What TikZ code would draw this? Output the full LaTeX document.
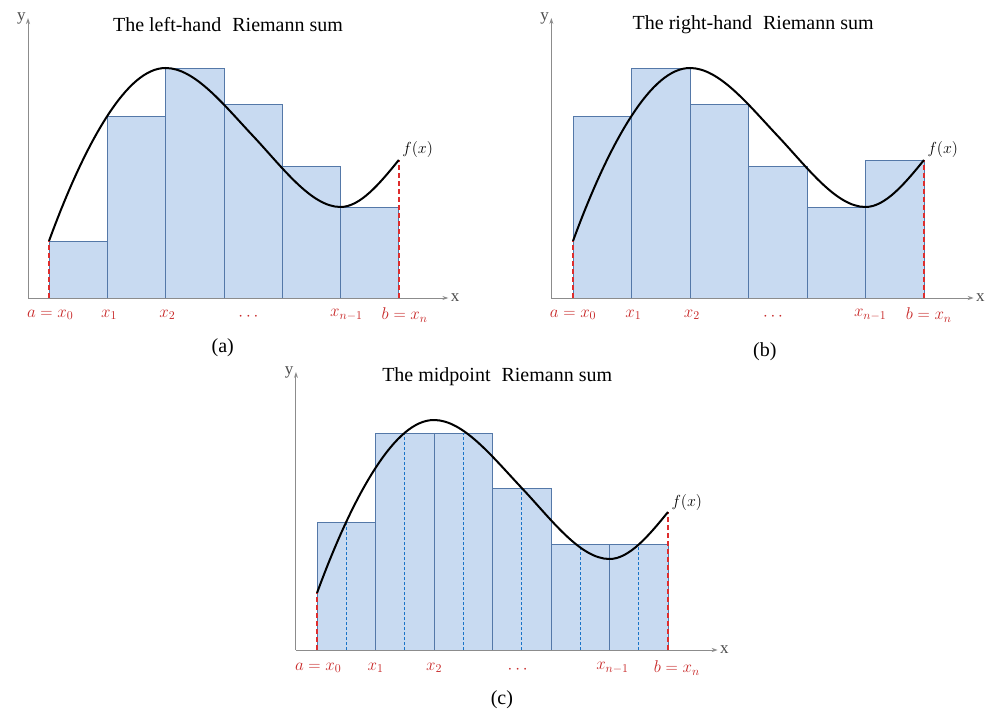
\RequirePackage{fix-cm}
\documentclass[tikz,border=0pt]{standalone}
\usepackage{fontspec}
\setmainfont{Liberation Serif}
\usepackage{tikz}
\usetikzlibrary{arrows.meta}

\definecolor{barfill}{RGB}{200,218,241}
\definecolor{baredge}{RGB}{84,120,168}
\definecolor{axisgray}{RGB}{140,140,140}
\definecolor{edgered}{RGB}{222,45,45}
\definecolor{labelred}{RGB}{200,40,40}
\definecolor{midblue}{RGB}{25,115,200}

\begin{document}
\begin{tikzpicture}[x=1pt, y=1pt, >={Stealth[length=6pt,width=4pt]},
  axis/.style={->, draw=axisgray, line width=0.9pt},
  axlabel/.style={text=black!70, font=\fontsize{17}{19}\selectfont, inner sep=2pt},
  bar/.style={draw=baredge, fill=barfill, line width=0.8pt},
  fcurve/.style={line width=2pt, black, line join=round},
  redge/.style={edgered, line width=1.9pt, dash pattern=on 5pt off 3pt},
  midline/.style={midblue, line width=1.2pt, dash pattern=on 3pt off 2pt},
  tick/.style={labelred, font=\fontsize{17}{19}\selectfont},
  flabel/.style={anchor=west, inner sep=1pt, font=\fontsize{16}{18}\selectfont},
  ftitle/.style={font=\fontsize{20}{23}\selectfont},
  capt/.style={font=\fontsize{20}{22}\selectfont}]

  \useasboundingbox (0,0) rectangle (991,713);

  % ===== Panel (a): left-hand sum (origin at x_0) =====
  \begin{scope}[xshift=49pt, yshift=415pt, x=58.3pt]
    \foreach \i/\h in {0/57,1/182,2/230,3/194,4/132,5/91}
      \draw[bar] (\i,0) rectangle (\i+1,\h);
    \draw[axis] (-0.36,0) -- (6.85,0) node[axlabel, anchor=west] (xa) {x};
    \draw[axis] (-0.36,0) -- (-0.36,280) node[axlabel, anchor=east] (ya) {y};
    \draw[redge] (0,0) -- (0,57);
    \draw[redge] (6,0) -- (6,138);
    \draw[fcurve] (0,57) .. controls (0.333,110) and (0.667,152) .. (1,182)
      .. controls (1.333,212) and (1.667,230) .. (2,230)
      .. controls (2.5,230) and (3,193) .. (3.5,162)
      .. controls (4,131) and (4.5,91) .. (5,91)
      .. controls (5.333,91) and (5.667,114) .. (6,138);
    \node[flabel] (fa) at (6.04,148) {$f(x)$};

    \node[tick] (a0) at (0.02,-17) {$a=x_0$};
    \node[tick] (a1) at (1.03,-17) {$x_1$};
    \node[tick] (a2) at (2.03,-17) {$x_2$};
    \node[tick] (ad) at (3.42,-19) {$\cdots$};
    \node[tick] (a5) at (5.1,-17) {$x_{n-1}$};
    \node[tick] (a6) at (6.1,-17) {$b=x_n$};

    \node[ftitle] (ta) at (3.07,273) {The left-hand\hspace{0.3em} Riemann sum};
    \node[capt] (ca) at (2.98,-50) {(a)};
  \end{scope}

  % ===== Panel (b): right-hand sum =====
  \begin{scope}[xshift=573pt, yshift=415pt, x=58.5pt]
    \foreach \i/\h in {0/182,1/230,2/194,3/132,4/91,5/138}
      \draw[bar] (\i,0) rectangle (\i+1,\h);
    \draw[axis] (-0.37,0) -- (6.85,0) node[axlabel, anchor=west] (xb) {x};
    \draw[axis] (-0.37,0) -- (-0.37,280) node[axlabel, anchor=east] (yb) {y};
    \draw[redge] (0,0) -- (0,57);
    \draw[redge] (6,0) -- (6,138);
    \draw[fcurve] (0,57) .. controls (0.333,110) and (0.667,152) .. (1,182)
      .. controls (1.333,212) and (1.667,230) .. (2,230)
      .. controls (2.5,230) and (3,193) .. (3.5,162)
      .. controls (4,131) and (4.5,91) .. (5,91)
      .. controls (5.333,91) and (5.667,114) .. (6,138);
    \node[flabel] (fb) at (6.04,148) {$f(x)$};

    \node[tick] (b0) at (0.0,-17) {$a=x_0$};
    \node[tick] (b1) at (1.03,-17) {$x_1$};
    \node[tick] (b2) at (2.03,-17) {$x_2$};
    \node[tick] (bd) at (3.42,-19) {$\cdots$};
    \node[tick] (b5) at (5.08,-17) {$x_{n-1}$};
    \node[tick] (b6) at (6.08,-17) {$b=x_n$};

    \node[ftitle] (tb) at (3.08,273) {The right-hand\hspace{0.3em} Riemann sum};
    \node[capt] (cb) at (3.28,-54) {(b)};
  \end{scope}

  % ===== Panel (c): midpoint sum =====
  \begin{scope}[xshift=317pt, yshift=63pt, x=58.5pt]
    \foreach \i/\h in {0/128,1/217,2/217,3/162,4/106,5/106}
      \draw[bar] (\i,0) rectangle (\i+1,\h);
    \foreach \i/\h in {0/128,1/217,2/217,3/162,4/106,5/106}
      \draw[midline] (\i+0.5,0) -- (\i+0.5,\h);
    \draw[axis] (-0.36,0) -- (6.85,0) node[axlabel, anchor=west] (xc) {x};
    \draw[axis] (-0.36,0) -- (-0.36,278) node[axlabel, anchor=east] (yc) {y};
    \draw[redge] (0,0) -- (0,57);
    \draw[redge] (6,0) -- (6,138);
    \draw[fcurve] (0,57) .. controls (0.333,110) and (0.667,152) .. (1,182)
      .. controls (1.333,212) and (1.667,230) .. (2,230)
      .. controls (2.5,230) and (3,193) .. (3.5,162)
      .. controls (4,131) and (4.5,91) .. (5,91)
      .. controls (5.333,91) and (5.667,114) .. (6,138);
    \node[flabel] (fc) at (6.04,148) {$f(x)$};

    \node[tick] (c0) at (0.02,-18) {$a=x_0$};
    \node[tick] (c1) at (1.0,-18) {$x_1$};
    \node[tick] (c2) at (2.0,-18) {$x_2$};
    \node[tick] (cd) at (3.43,-20) {$\cdots$};
    \node[tick] (c5) at (5.05,-18) {$x_{n-1}$};
    \node[tick] (c6) at (6.15,-18) {$b=x_n$};

    \node[ftitle] (tc) at (3.08,273) {The midpoint\hspace{0.3em} Riemann sum};
    \node[capt] (cc) at (3.16,-50) {(c)};
  \end{scope}

\end{tikzpicture}
\end{document}
